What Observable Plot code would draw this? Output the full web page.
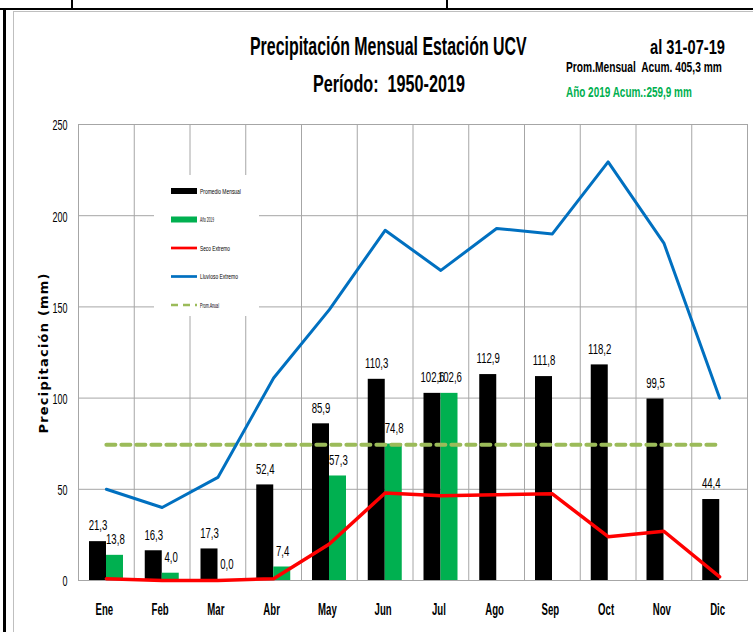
<!DOCTYPE html>
<html>
<head>
<meta charset="utf-8">
<script src="https://cdn.jsdelivr.net/npm/d3@7"></script>
<script src="https://cdn.jsdelivr.net/npm/@observablehq/plot@0.6"></script>
<style>
  html, body { margin: 0; padding: 0; background: #fff; }
  #wrap { position: relative; width: 753px; height: 632px; overflow: hidden; font-family: "Liberation Sans", Arial, sans-serif; }
  #wrap svg { position: absolute; left: 0; top: 0; }
  .deco { position: absolute; background: #000; }
</style>
</head>
<body>
<div id="wrap">
  <div id="chart"></div>
  <div class="deco" style="left:0;top:8px;width:753px;height:2px;"></div>
  <div class="deco" style="left:71px;top:0;width:2px;height:9px;"></div>
  <div class="deco" style="left:446px;top:0;width:2px;height:9px;"></div>
  <div class="deco" style="left:3px;top:8px;width:3px;height:624px;"></div>
  <div class="deco" style="left:13px;top:11px;width:1px;height:621px;background:#bfbfbf;"></div>
  <div class="deco" style="left:13px;top:11px;width:740px;height:1px;background:#bfbfbf;"></div>
</div>
<script>
const months = ["Ene","Feb","Mar","Abr","May","Jun","Jul","Ago","Sep","Oct","Nov","Dic"];
const promedioMensual = [21.3,16.3,17.3,52.4,85.9,110.3,102.6,112.9,111.8,118.2,99.5,44.4];
const anio2019 = [13.8,4.0,0.0,7.4,57.3,74.8,102.6];
const secoExtremo = [1,0,0,1,20,48,46.5,47,47.5,24,27,2];
const lluviosoExtremo = [50,40,56.5,111,148.5,192,170,193,190,229.5,185,100];
const promAnual = 74.4;
const yTicks = [0,50,100,150,200,250];
const titleTexts = ["Precipitación Mensual Estación UCV", "Período:  1950-2019", "al 31-07-19",
                    "Prom.Mensual  Acum. 405,3 mm", "Año 2019 Acum.:259,9 mm"];
const legendLabels = ["Promedio Mensual", "Año 2019", "Seco Extremo", "Lluvioso Extremo", "Prom.Anual"];
const yLabel = "Precipitación (mm)";

const W = 753, H = 632, mL = 78, mR = 6, mT = 124, mB = 52;
const bw = (W - mL - mR) / months.length;
const fmt = v => v.toFixed(1).replace(".", ",");

const prom = months.map((m, i) => ({month: m, v: promedioMensual[i]}));
const y19 = anio2019.map((v, i) => ({month: months[i], v}));
const seco = months.map((m, i) => ({month: m, v: secoExtremo[i]}));
const lluv = months.map((m, i) => ({month: m, v: lluviosoExtremo[i]}));
const anual = [{month: months[0], v: promAnual}, {month: months[months.length - 1], v: promAnual}];

const C = {black: "#000000", green: "#00b050", red: "#ff0000", blue: "#0070c0", dash: "#9bbb59", grid: "#a6a6a6"};
const FONT = "'Liberation Sans', Arial, sans-serif";

const chart = Plot.plot({
  width: W, height: H,
  marginLeft: mL, marginRight: mR, marginTop: mT, marginBottom: mB,
  style: {fontFamily: FONT, color: "#000", background: "transparent"},
  x: {type: "band", domain: months, padding: 0, round: false},
  y: {domain: [0, 250]},
  marks: [
    Plot.gridY(yTicks, {stroke: C.grid, strokeOpacity: 1}),
    Plot.ruleX(months.slice(1), {x: d => d, dx: -bw / 2, stroke: C.grid, strokeOpacity: 1}),
    Plot.frame({stroke: C.grid}),
    Plot.barY(prom, {x: "month", y: "v", fill: C.black, insetLeft: 11, insetRight: bw - 28}),
    Plot.barY(y19, {x: "month", y: "v", fill: C.green, insetLeft: 28, insetRight: bw - 45}),
    Plot.line(anual, {x: "month", y: "v", stroke: C.dash, strokeWidth: 4, strokeDasharray: "9,6"}),
    Plot.line(lluv, {x: "month", y: "v", stroke: C.blue, strokeWidth: 3}),
    Plot.line(seco, {x: "month", y: "v", stroke: C.red, strokeWidth: 3.5}),
    Plot.text(prom, {x: "month", y: "v", text: d => fmt(d.v), dx: -8.4, dy: -16, fill: "#000", fontSize: 15, className: "sq"}),
    Plot.text(y19, {x: "month", y: "v", text: d => fmt(d.v), dx: 9, dy: -16, fill: "#000", fontSize: 15, className: "sq"}),
    Plot.axisX({tickSize: 0, tickPadding: 23, fontSize: 16, fontWeight: "bold", dx: -2, label: null, className: "sqx"}),
    Plot.axisY(yTicks, {tickSize: 0, tickPadding: 11, fontSize: 15, dy: 1, label: null, className: "sqy"}),
    Plot.text([yLabel], {frameAnchor: "left", textAnchor: "middle", rotate: -90, dx: -35, dy: 1, fontWeight: "bold", fontSize: 13, fontFamily: "'DejaVu Sans', sans-serif", fill: "#000", className: "ylab"})
  ]
});
document.getElementById("chart").appendChild(chart);

// condense texts to mimic the narrow typeface of the reference
function squeeze(sel, f, adjust) {
  chart.querySelectorAll(sel).forEach(t => {
    const L = t.getComputedTextLength();
    t.setAttribute("textLength", L * f);
    t.setAttribute("lengthAdjust", adjust || "spacingAndGlyphs");
  });
}
squeeze(".sq text", 0.64);
squeeze(".sqx text", 0.6);
squeeze(".sqy text", 0.6);
chart.querySelectorAll(".ylab text").forEach(t => { t.setAttribute("textLength", 160); t.setAttribute("lengthAdjust", "spacing"); });

// titles and legend overlay (horizontally condensed with a scale transform)
const ov = d3.select("#wrap").append("svg").attr("width", W).attr("height", H)
  .style("font-family", FONT).style("font-weight", "bold");
function narrowText(parent, str, x, y, w, fs, color, weight) {
  const t = parent.append("text").attr("x", 0).attr("y", 0).attr("font-size", fs).attr("fill", color)
    .attr("font-weight", weight || "bold").style("white-space", "pre").text(str);
  const L = t.node().getComputedTextLength();
  t.attr("transform", `translate(${x},${y}) scale(${w / L},1)`);
  return t;
}
const titleSpec = [
  {x: 250, y: 55, w: 277, fs: 25, c: "#000"},
  {x: 313, y: 92, w: 152, fs: 24, c: "#000"},
  {x: 650, y: 54, w: 75, fs: 19.5, c: "#000"},
  {x: 566, y: 72, w: 156, fs: 14, c: "#000"},
  {x: 566, y: 97, w: 126, fs: 15, c: C.green}
];
titleSpec.forEach((s, i) => narrowText(ov, titleTexts[i], s.x, s.y, s.w, s.fs, s.c));

const lg = ov.append("g");
lg.append("rect").attr("x", 154).attr("y", 175).attr("width", 105).attr("height", 141).attr("fill", "#fff");
const legendColors = [C.black, C.green, C.red, C.blue, C.dash];
const legendW = [41, 14, 30, 38, 19];
legendLabels.forEach((lab, i) => {
  const cy = 191 + i * 28.5;
  if (i < 2) lg.append("rect").attr("x", 171).attr("y", cy - 3).attr("width", 26).attr("height", 6).attr("fill", legendColors[i]);
  else lg.append("line").attr("x1", 171).attr("x2", 197).attr("y1", cy).attr("y2", cy)
    .attr("stroke", legendColors[i]).attr("stroke-width", 2.7).attr("stroke-dasharray", i === 4 ? "7,5" : null);
  narrowText(lg, lab, 200, cy + 2.5, legendW[i], 7, "#000", "normal");
});
</script>
</body>
</html>
